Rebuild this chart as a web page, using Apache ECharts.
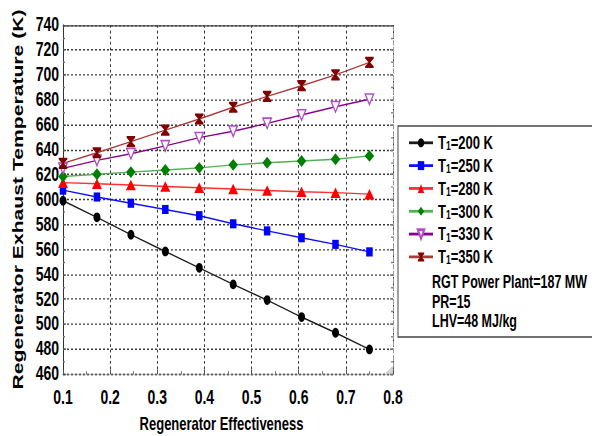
<!DOCTYPE html>
<html>
<head>
<meta charset="utf-8">
<script src="https://cdn.jsdelivr.net/npm/echarts@6/dist/echarts.min.js"></script>
<style>
  html, body { margin: 0; padding: 0; background: #fff; overflow: hidden; width: 592px; height: 436px; }
  /* the figure is drawn on a short canvas and stretched vertically */
  #chart { width: 592px; height: 311.43px; transform: scaleY(1.4); transform-origin: 0 0; }
</style>
</head>
<body>
<div id="chart"></div>
<script>
// Regenerator effectiveness (x) and regenerator exhaust temperature in K (y)
const effectiveness = [0.1, 0.172, 0.244, 0.317, 0.389, 0.461, 0.533, 0.606, 0.678, 0.75];
const inletTemps = [200, 250, 280, 300, 330, 350];

const exhaustT200 = [599, 585.7, 571.8, 558.3, 545.2, 531.9, 519.3, 505.7, 493.1, 479.7];
const exhaustT250 = [607.5, 602, 597, 592, 587, 580.5, 574.8, 569.3, 564, 558];
const exhaustT280 = [613.5, 612.6, 611.6, 610.4, 609.4, 608.4, 607.2, 606.2, 605.5, 604.3];
const exhaustT300 = [618.5, 620.3, 622, 623.7, 625.4, 627.8, 629.5, 630.9, 632.3, 635];
const exhaustT330 = [625, 631.4, 636.7, 643, 649.6, 654.8, 661.1, 667.8, 674.4, 680.4];
const exhaustT350 = [629, 637.5, 646.4, 655.7, 664.6, 674, 682.7, 691.3, 700, 710];

const xTicks = { min: 0.1, max: 0.8, step: 0.1 };
const yTicks = { min: 460, max: 740, step: 20 };

const notes = ['RGT Power Plant=187 MW', 'PR=15', 'LHV=48 MJ/kg'];

const FONT = '"Liberation Sans", Arial, Helvetica, sans-serif';

const curves = [exhaustT200, exhaustT250, exhaustT280, exhaustT300, exhaustT330, exhaustT350];

// marker and line look of each curve
const looks = [
  { line: '#1a1a1a', fill: '#000000', stroke: '#000000', symbol: 'circle', size: 7 },
  { line: '#1010ff', fill: '#0000ff', stroke: '#0000ff', symbol: 'rect', size: [6.5, 6.5] },
  { line: '#ff3030', fill: '#ff0000', stroke: '#ff0000', symbol: 'triangle', size: [10, 7.5] },
  { line: '#55b055', fill: '#008000', stroke: '#008000', symbol: 'diamond', size: [9.5, 8.5] },
  { line: '#8a008a', fill: '#ffffff', stroke: '#b050c8', symbol: 'path://M0,0 L10,0 L5,10 Z', size: [8.5, 7.5] },
  { line: '#a83a3a', fill: '#800000', stroke: '#800000',
    symbol: 'path://M0,0 H10 V1.6 L6,5 L10,8.4 V10 H0 V8.4 L4,5 L0,1.6 Z', size: [8.5, 8] }
];

const series = curves.map((vals, i) => ({
  name: 'T1=' + inletTemps[i] + ' K',
  type: 'line',
  xAxisIndex: 0,
  yAxisIndex: 0,
  data: effectiveness.map((e, k) => [e, vals[k]]),
  symbol: looks[i].symbol,
  symbolSize: looks[i].size,
  showAllSymbol: true,
  lineStyle: { color: looks[i].line, width: 1 },
  itemStyle: { color: looks[i].fill, borderColor: looks[i].stroke, borderWidth: i === 4 ? 1.2 : 0 },
  emphasis: { disabled: true },
  animation: false
}));

const chart = echarts.init(document.getElementById('chart'), null, { renderer: 'svg' });

const gridLine = { show: true, lineStyle: { color: '#3a3a3a', width: 1, type: [2, 2] } };

chart.setOption({
  animation: false,
  backgroundColor: '#ffffff',
  grid: { left: 63, top: 17.86, width: 330, height: 249.28, containLabel: false, outerBoundsMode: 'none' },
  xAxis: [
    {
      type: 'value', position: 'bottom',
      min: xTicks.min, max: xTicks.max, interval: xTicks.step,
      name: 'Regenerator Effectiveness',
      nameLocation: 'middle', nameGap: 29,
      nameTextStyle: { fontFamily: FONT, fontWeight: 'bold', fontSize: 13, color: '#000', padding: [0, 13, 0, 0] },
      axisLine: { show: true, onZero: false, lineStyle: { color: '#666', width: 1, type: [2, 2] } },
      axisTick: { show: true, inside: true, length: 3, lineStyle: { color: '#555' } },
      minorTick: { show: true, splitNumber: 2, length: 2, lineStyle: { color: '#777' } },
      axisLabel: {
        margin: 10, fontFamily: FONT, fontWeight: 'bold', fontSize: 14, color: '#000',
        formatter: v => v.toFixed(1)
      },
      splitLine: gridLine
    },
    {
      type: 'value', position: 'top',
      min: xTicks.min, max: xTicks.max, interval: xTicks.step,
      axisLine: { show: true, onZero: false, lineStyle: { color: '#444', width: 1 } },
      axisTick: { show: false }, axisLabel: { show: false }, splitLine: { show: false }
    }
  ],
  yAxis: [
    {
      type: 'value', position: 'left',
      min: yTicks.min, max: yTicks.max, interval: yTicks.step,
      name: 'Regenerator Exhaust Temperature (K)',
      nameLocation: 'middle', nameGap: 34, nameRotate: 90,
      nameTextStyle: { fontFamily: FONT, fontWeight: 'bold', fontSize: 15.1, color: '#000' },
      axisLine: { show: true, onZero: false, lineStyle: { color: '#333', width: 1 } },
      axisTick: { show: true, inside: true, length: 3, lineStyle: { color: '#555' } },
      minorTick: { show: true, splitNumber: 2, length: 2, lineStyle: { color: '#777' } },
      axisLabel: { margin: 4, fontFamily: FONT, fontWeight: 'bold', fontSize: 14, color: '#000' },
      splitLine: gridLine
    },
    {
      type: 'value', position: 'right',
      min: yTicks.min, max: yTicks.max, interval: yTicks.step,
      axisLine: { show: true, onZero: false, lineStyle: { color: '#999', width: 1, type: [3, 2] } },
      axisTick: { show: true, inside: true, length: 3, lineStyle: { color: '#777' } },
      minorTick: { show: true, splitNumber: 2, length: 2, lineStyle: { color: '#888' } },
      axisLabel: { show: false }, splitLine: { show: false }
    }
  ],
  legend: {
    left: 403, top: 90.5,
    orient: 'vertical',
    itemWidth: 24, itemHeight: 8, itemGap: 2.8,
    selectedMode: false,
    data: series.map(s => s.name),
    formatter: name => '{t|T}{s|1}{t|' + name.slice(2) + '}',
    textStyle: {
      fontFamily: FONT, fontWeight: 'bold', fontSize: 13, color: '#000',
      rich: {
        t: { fontFamily: FONT, fontWeight: 'bold', fontSize: 13, color: '#000', lineHeight: 14 },
        s: { fontFamily: FONT, fontWeight: 'bold', fontSize: 8.5, color: '#000', lineHeight: 8, verticalAlign: 'bottom' }
      }
    }
  },
  graphic: [
    {
      type: 'rect', z: -1, silent: true,
      shape: { x: 398, y: 90, width: 220, height: 150.7 },
      style: { fill: '#ffffff', stroke: '#444', lineWidth: 1 }
    },
    {
      type: 'polygon', silent: true, z: 10,
      shape: { points: [[386, 266.6], [392.4, 266.6], [392.4, 262]] },
      style: { fill: '#d8d8d8', stroke: '#bbbbbb', lineWidth: 0.6 }
    }
  ].concat(notes.map((txt, i) => ({
    type: 'text', silent: true, z: 10,
    x: 432, y: [201.4, 215.7, 229.3][i],
    style: { text: txt, fontFamily: FONT, fontWeight: 'bold', fontSize: 12.5, fill: '#000', verticalAlign: 'middle' }
  }))),
  series: series
});
</script>
</body>
</html>
